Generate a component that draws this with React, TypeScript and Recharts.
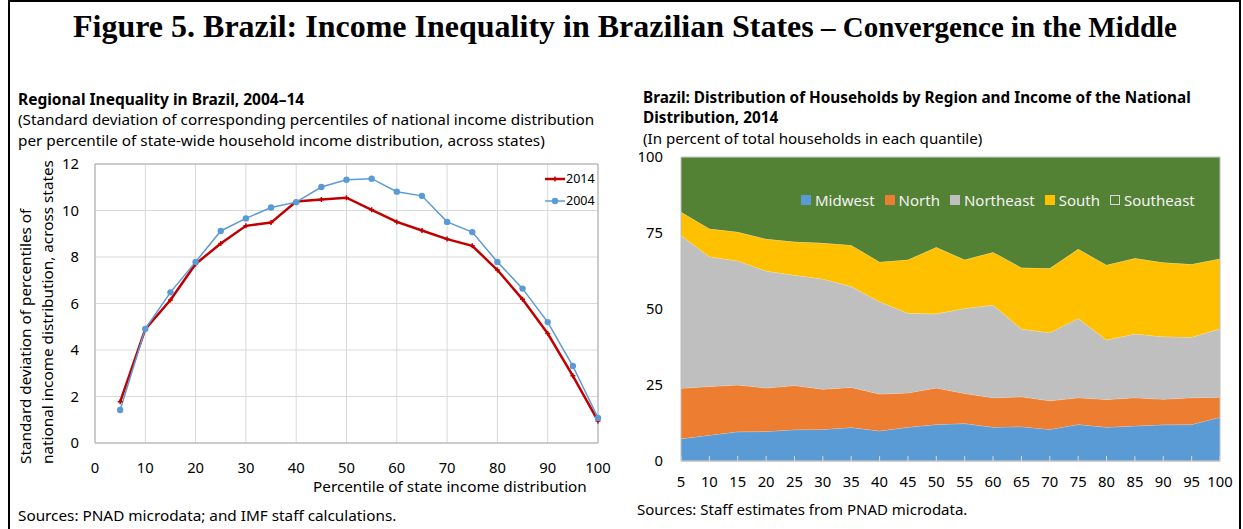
import React from 'react';
import {
  LineChart, Line, AreaChart, Area, XAxis, YAxis, CartesianGrid, Legend, ReferenceArea,
} from 'recharts';

// ---------- Left chart data ----------
const percentiles = [5, 10, 15, 20, 25, 30, 35, 40, 45, 50, 55, 60, 65, 70, 75, 80, 85, 90, 95, 100];
const sd2014 = [1.77, 4.9, 6.15, 7.7, 8.58, 9.34, 9.48, 10.39, 10.47, 10.55, 10.03, 9.51, 9.14, 8.77, 8.48, 7.44, 6.18, 4.71, 2.89, 0.95];
const sd2004 = [1.42, 4.91, 6.48, 7.79, 9.12, 9.66, 10.13, 10.36, 11.01, 11.32, 11.37, 10.81, 10.63, 9.51, 9.07, 7.79, 6.64, 5.2, 3.31, 1.08];
const leftXTicks = [0, 10, 20, 30, 40, 50, 60, 70, 80, 90, 100];
const leftYTicks = [0, 2, 4, 6, 8, 10, 12];

// ---------- Right chart data ----------
const quantiles = ['5', '10', '15', '20', '25', '30', '35', '40', '45', '50', '55', '60', '65', '70', '75', '80', '85', '90', '95', '100'];
const midwest = [7.3, 8.5, 9.6, 9.7, 10.3, 10.4, 11.0, 9.9, 11.1, 12.0, 12.3, 11.1, 11.3, 10.4, 12.0, 11.1, 11.5, 11.9, 12.0, 14.4];
const north = [16.6, 16.0, 15.4, 14.3, 14.5, 13.2, 13.2, 12.1, 11.3, 12.0, 9.9, 9.7, 9.8, 9.4, 8.8, 9.1, 9.3, 8.4, 8.8, 6.6];
const northeast = [50.3, 42.7, 40.8, 38.5, 36.3, 36.3, 33.2, 30.4, 26.2, 24.4, 28.0, 30.5, 22.3, 22.4, 26.1, 19.6, 21.0, 20.6, 19.9, 22.5];
const south = [7.7, 9.2, 9.5, 10.5, 11.0, 11.8, 13.6, 13.1, 17.6, 21.9, 16.0, 17.4, 20.2, 21.2, 22.8, 24.7, 24.9, 24.4, 24.0, 23.0];
const southeast = [18.1, 23.6, 24.7, 27.0, 27.9, 28.3, 29.0, 34.5, 33.8, 29.7, 33.8, 31.3, 36.4, 36.6, 30.3, 35.5, 33.3, 34.7, 35.3, 33.5];
const rightYTicks = [0, 25, 50, 75, 100];

const regions = [
  { key: 'Midwest', values: midwest, color: '#5B9BD5' },
  { key: 'North', values: north, color: '#ED7D31' },
  { key: 'Northeast', values: northeast, color: '#BFBFBF' },
  { key: 'South', values: south, color: '#FFC000' },
  { key: 'Southeast', values: southeast, color: '#548235' },
];

const leftData = percentiles.map((p, i) => ({ p, y2014: sd2014[i], y2004: sd2004[i] }));
const rightData = quantiles.map((q, i) => {
  const row: Record<string, number | string> = { q };
  regions.forEach((r) => { row[r.key] = r.values[i]; });
  return row;
});

const SANS = '"Noto Sans", "Open Sans", sans-serif';
const SERIF = '"Liberation Serif", "DejaVu Serif", serif';
const TXT = 15.3;

const abs = (left: number, top: number, extra: React.CSSProperties = {}): React.CSSProperties => ({
  position: 'absolute', left, top, whiteSpace: 'nowrap', fontFamily: SANS, color: '#000', ...extra,
});

const PlusDot = (props: any) => {
  const { cx, cy, index } = props;
  if (cx == null || cy == null) return <g key={`pd-${index}`} />;
  return (
    <path
      key={`pd-${index}`}
      d={`M${cx - 2.5},${cy}h5M${cx},${cy - 2.5}v5`}
      stroke="#C00000"
      strokeWidth={1.5}
      fill="none"
    />
  );
};

const LeftLegend = () => (
  <div style={{ fontFamily: SANS, fontSize: 12.5, color: '#000', lineHeight: '22px' }}>
    <div style={{ display: 'flex', alignItems: 'center' }}>
      <svg width={20} height={10} style={{ marginRight: 1 }}>
        <line x1={0} y1={5} x2={20} y2={5} stroke="#C00000" strokeWidth={2.5} />
        <path d="M7.5,5h5M10,2.5v5" stroke="#C00000" strokeWidth={1.5} />
      </svg>
      <span>2014</span>
    </div>
    <div style={{ display: 'flex', alignItems: 'center' }}>
      <svg width={20} height={10} style={{ marginRight: 1 }}>
        <line x1={0} y1={5} x2={20} y2={5} stroke="#5B9BD5" strokeWidth={1.5} />
        <circle cx={10} cy={5} r={3.2} fill="#5B9BD5" />
      </svg>
      <span>2004</span>
    </div>
  </div>
);

const RightLegend = () => (
  <div style={{ display: 'flex', alignItems: 'center', fontFamily: SANS, fontSize: 15, color: '#F2F2F2', lineHeight: '18px' }}>
    {regions.map((r) => (
      <div key={r.key} style={{ display: 'flex', alignItems: 'center', marginRight: 10 }}>
        <svg width={10} height={10} style={{ marginRight: 4 }}>
          {r.key === 'Southeast' ? (
            <rect x={0.5} y={0.5} width={9} height={9} fill="none" stroke="#D9D9D9" strokeWidth={1} />
          ) : (
            <rect x={0} y={0} width={10} height={10} fill={r.color} />
          )}
        </svg>
        <span>{r.key}</span>
      </div>
    ))}
  </div>
);

export default function App() {
  return (
    <div style={{ position: 'absolute', left: 0, top: 0, width: 1243, height: 529, background: '#fff', overflow: 'hidden' }}>
      {/* frame */}
      <div style={{ position: 'absolute', left: 8, top: 0, width: 1233, height: 2, background: '#000' }} />
      <div style={{ position: 'absolute', left: 8, top: 0, width: 2, height: 529, background: '#000' }} />
      <div style={{ position: 'absolute', left: 1239, top: 0, width: 2, height: 529, background: '#000' }} />

      {/* main title */}
      <div style={abs(73, 7, { fontFamily: SERIF, fontWeight: 'bold', lineHeight: '38px' })}>
        <span style={{ fontSize: 32 }}>Figure 5. Brazil: Income Inequality in Brazilian States</span>
        <span style={{ fontSize: 29 }}> – Convergence in the Middle</span>
      </div>

      {/* left titles */}
      <div style={abs(18, 89, { fontSize: 15.5, fontWeight: 'bold', lineHeight: '20px' })}>Regional Inequality in Brazil, 2004–14</div>
      <div style={abs(18, 109, { fontSize: TXT, lineHeight: '20px' })}>(Standard deviation of corresponding percentiles of national income distribution</div>
      <div style={abs(18, 130, { fontSize: TXT, lineHeight: '20px' })}>per percentile of state-wide household income distribution, across states)</div>

      {/* right titles */}
      <div style={abs(643, 87, { fontSize: 15.3, fontWeight: 'bold', lineHeight: '20px' })}>Brazil: Distribution of Households by Region and Income of the National</div>
      <div style={abs(643, 107, { fontSize: 15.3, fontWeight: 'bold', lineHeight: '20px' })}>Distribution, 2014</div>
      <div style={abs(643, 130, { fontSize: 15.1, lineHeight: '17px' })}>(In percent of total households in each quantile)</div>

      {/* left chart */}
      <div style={{ position: 'absolute', left: 0, top: 150 }}>
        <LineChart width={620} height={360} data={leftData} margin={{ top: 14, right: 22, left: 0, bottom: 0 }}>
          <CartesianGrid stroke="#D9D9D9" strokeWidth={1} />
          <XAxis
            dataKey="p"
            type="number"
            domain={[0, 100]}
            ticks={leftXTicks}
            interval={0}
            height={67}
            tickSize={0}
            tickMargin={19}
            axisLine={false}
            tickLine={false}
            tick={{ fontSize: 14.8, fill: '#000', fontFamily: SANS }}
          />
          <YAxis
            type="number"
            domain={[0, 12]}
            ticks={leftYTicks}
            interval={0}
            width={95}
            tickSize={0}
            tickMargin={16}
            axisLine={false}
            tickLine={false}
            tick={{ fontSize: 14.8, fill: '#000', fontFamily: SANS }}
          />
          <ReferenceArea x1={0} x2={100} y1={0} y2={12} fill="none" stroke="#ABABAB" strokeWidth={1} ifOverflow="visible" />
          <Line dataKey="y2014" stroke="#C00000" strokeWidth={2.5} dot={PlusDot} activeDot={false} isAnimationActive={false} />
          <Line dataKey="y2004" stroke="#5B9BD5" strokeWidth={1.5} dot={{ r: 3.2, fill: '#5B9BD5', stroke: 'none' }} activeDot={false} isAnimationActive={false} />
          <Legend
            layout="horizontal"
            verticalAlign="middle"
            align="center"
            content={LeftLegend}
            wrapperStyle={{ position: 'absolute', left: 545, top: 18, width: 70, height: 44 }}
          />
        </LineChart>
      </div>

      {/* left y-axis title */}
      <svg width={70} height={529} style={{ position: 'absolute', left: 0, top: 0 }}>
        <text transform="translate(31,464) rotate(-90)" fontFamily={SANS} fontSize={TXT} fill="#000">Standard deviation of percentiles of</text>
        <text transform="translate(53,464) rotate(-90)" fontFamily={SANS} fontSize={TXT} fill="#000">national income distribution, across states</text>
      </svg>
      <div style={abs(313, 478, { fontSize: TXT, lineHeight: '16px' })}>Percentile of state income distribution</div>
      <div style={abs(18, 505, { fontSize: TXT, lineHeight: '20px' })}>Sources: PNAD microdata; and IMF staff calculations.</div>

      {/* right chart */}
      <div style={{ position: 'absolute', left: 620, top: 140 }}>
        <AreaChart width={623} height={360} data={rightData} margin={{ top: 17, right: 23, left: 0, bottom: 0 }}>
          <XAxis
            dataKey="q"
            interval={0}
            height={39}
            tickSize={-5}
            tickMargin={20}
            axisLine={{ stroke: '#BFBFBF' }}
            tickLine={{ stroke: '#D9D9D9' }}
            tick={{ fontSize: 14.8, fill: '#000', fontFamily: SANS }}
          />
          <YAxis
            type="number"
            domain={[0, 100]}
            allowDataOverflow
            ticks={rightYTicks}
            interval={0}
            width={61}
            tickSize={0}
            tickMargin={18}
            axisLine={false}
            tickLine={false}
            tick={{ fontSize: 14.8, fill: '#000', fontFamily: SANS }}
          />
          {regions.map((r) => (
            <Area
              key={r.key}
              dataKey={r.key}
              stackId="a"
              type="linear"
              fill={r.color}
              fillOpacity={1}
              stroke="#FFFFFF"
              strokeOpacity={0.45}
              strokeWidth={0.8}
              dot={false}
              activeDot={false}
              isAnimationActive={false}
            />
          ))}
          <ReferenceArea x1="5" x2="100" y1={0} y2={100} fill="none" stroke="#BFBFBF" strokeWidth={1} ifOverflow="visible" />
          <Legend
            layout="horizontal"
            verticalAlign="middle"
            align="center"
            content={RightLegend}
            wrapperStyle={{ position: 'absolute', left: 181, top: 51, width: 420, height: 18 }}
          />
        </AreaChart>
      </div>
      <div style={abs(637, 499, { fontSize: 15, lineHeight: '20px' })}>Sources: Staff estimates from PNAD microdata.</div>
    </div>
  );
}
